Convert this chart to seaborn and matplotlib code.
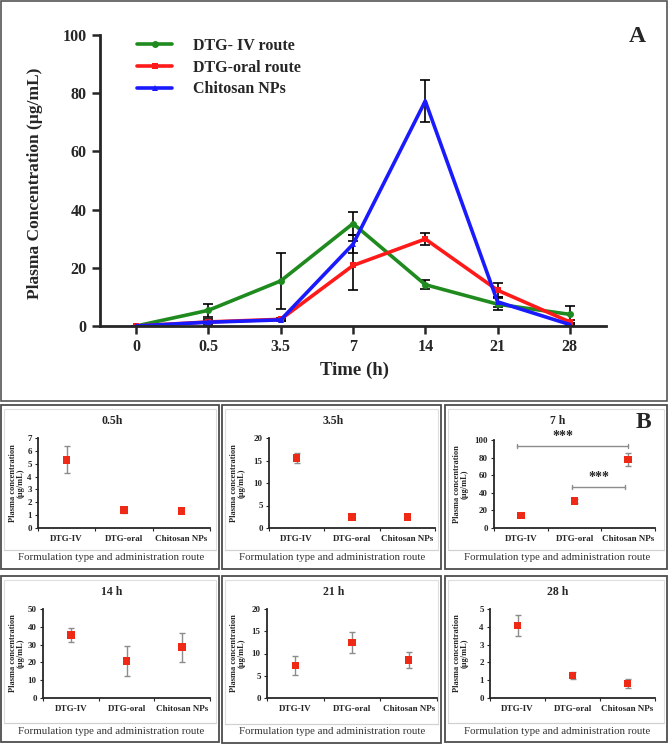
import numpy as np
import pandas as pd
import matplotlib
matplotlib.use("Agg")
import matplotlib.pyplot as plt
from matplotlib.patches import Rectangle
from matplotlib.lines import Line2D
import seaborn as sns

# ---- data: panel A (mean +/- sd, ug/mL) ----
times = ['0', '0.5', '3.5', '7', '14', '21', '28']
routes = ['DTG- IV route', 'DTG-oral route', 'Chitosan NPs']
iv_mean = [0, 5.4, 15.5, 35.2, 14.2, 7.5, 4.0]
iv_sd = [0, 2.3, 9.7, 4.0, 1.6, 2.0, 2.8]
oral_mean = [0, 1.4, 2.3, 20.8, 29.9, 12.3, 1.4]
oral_sd = [0, 1.0, 0.5, 8.5, 2.2, 2.5, 0.5]
np_mean = [0, 1.3, 2.1, 28.1, 77.3, 8.3, 0.5]
np_sd = [0, 0.4, 0.3, 3.0, 7.2, 1.8, 0.3]

# ---- data: panel B (one small chart per time point) ----
groups = ['DTG-IV', 'DTG-oral', 'Chitosan NPs']
p05_mean, p05_sd = [5.3, 1.4, 1.3], [1.05, 0.2, 0.12]
p35_mean, p35_sd = [15.5, 2.4, 2.4], [1.1, 0.3, 0.3]
p7_mean, p7_sd = [14.1, 30.4, 78.0], [1.5, 2.0, 7.0]
p14_mean, p14_sd = [35.4, 20.9, 28.5], [4.2, 8.3, 8.0]
p21_mean, p21_sd = [7.3, 12.45, 8.5], [2.15, 2.4, 1.8]
p28_mean, p28_sd = [4.08, 1.26, 0.81], [0.6, 0.2, 0.26]

W, H = 669, 745

sns.set_style("ticks")
plt.rcParams['font.family'] = ['Liberation Serif', 'DejaVu Serif']

fig = plt.figure(figsize=(W / 100, H / 100), dpi=100)


def fbox(x0, x1, y0, y1):
    # pixel box (top-left origin) -> figure fraction rect
    return [x0 / W, 1 - y1 / H, (x1 - x0) / W, (y1 - y0) / H]


def frame(x0, x1, y0, y1, color='#555555', lw=1.2):
    r = Rectangle((x0 / W, 1 - y1 / H), (x1 - x0) / W, (y1 - y0) / H,
                  transform=fig.transFigure, fill=False, ec=color, lw=lw)
    fig.add_artist(r)


# ================= panel A =================
frame(1, 667, 1, 401)
ax = fig.add_axes(fbox(100, 606, 35, 326))

df = pd.DataFrame({
    'pos': np.tile(np.arange(len(times)), 3),
    'conc': iv_mean + oral_mean + np_mean,
    'sd': iv_sd + oral_sd + np_sd,
    'route': np.repeat(routes, len(times)),
})
colors = {'DTG- IV route': '#1f8b1f', 'DTG-oral route': '#ff1a1a', 'Chitosan NPs': '#1a1aff'}
mk = {'DTG- IV route': 'o', 'DTG-oral route': 's', 'Chitosan NPs': '^'}

for r in routes:
    sub = df[df.route == r]
    ax.errorbar(sub.pos, sub.conc, yerr=sub.sd, fmt='none', ecolor='black',
                elinewidth=1.2, capsize=3.5, capthick=1.2, zorder=1)
sns.lineplot(data=df, x='pos', y='conc', hue='route', style='route',
             markers=mk, dashes=False, palette=colors, lw=2.6,
             markersize=5, markeredgewidth=0, legend=False, ax=ax, zorder=2)

ax.set_xlim(-0.5, 6.5)
ax.set_ylim(0, 100)
ax.set_xticks(range(len(times)))
ax.set_xticklabels(times)
ax.set_yticks(range(0, 101, 20))
sns.despine(ax=ax)
for s in ['left', 'bottom']:
    ax.spines[s].set_linewidth(2)
ax.tick_params(width=1.8, length=6, labelsize=11.5)
for t in ax.get_xticklabels() + ax.get_yticklabels():
    t.set_fontweight('bold')
ax.set_xlabel('')
ax.set_ylabel('')
fig.text(354 / W, 1 - 370 / H, 'Time (h)', ha='center', va='center',
         fontsize=13.5, fontweight='bold')
fig.text(35 / W, 1 - 183 / H, 'Plasma Concentration (\u00b5g/mL)', rotation=90,
         ha='center', va='center', fontsize=12.5, fontweight='bold')
fig.text(637 / W, 1 - 37 / H, 'A', ha='center', va='center', fontsize=17,
         fontweight='bold')

handles = [Line2D([], [], color=colors[r], marker=mk[r], lw=2.6, markersize=5,
                  markeredgewidth=0) for r in routes]
ax.legend(handles, routes, loc='upper left', bbox_to_anchor=(137 / W, 1 - 38 / H),
          bbox_transform=fig.transFigure, frameon=False, borderpad=0,
          borderaxespad=0, handlelength=2.2, handletextpad=1.3, labelspacing=0.35,
          prop={'weight': 'bold', 'size': 11.5})

# ================= panel B =================
panels = [
    # title, mean, sd, ymax, ystep, box(x0,x1,y0,y1), axes(x0,x1,y0,y1)
    ('0.5h', p05_mean, p05_sd, 7, 1, (1, 219, 405, 569), (38, 210, 438, 528)),
    ('3.5h', p35_mean, p35_sd, 20, 5, (222, 441, 405, 569), (269, 435, 438, 528)),
    ('7 h', p7_mean, p7_sd, 100, 20, (445, 667, 405, 569), (494, 655, 440, 528)),
    ('14 h', p14_mean, p14_sd, 50, 10, (1, 219, 576, 742), (43, 210, 609, 698)),
    ('21 h', p21_mean, p21_sd, 20, 5, (222, 441, 576, 743), (267, 437, 609, 698)),
    ('28 h', p28_mean, p28_sd, 5, 1, (445, 667, 576, 742), (490, 655, 609, 698)),
]

for title, mean, sd, ymax, ystep, bx, axp in panels:
    bx0, bx1, by0, by1 = bx
    frame(bx0, bx1, by0, by1, color='#4d4d4d', lw=1.3)
    sep = by1 - 19
    frame(bx0 + 3, bx1 - 3, by0 + 4, sep, color='#dedede', lw=0.8)

    a = fig.add_axes(fbox(*axp))
    pdf = pd.DataFrame({'group': groups, 'pos': [0, 1, 2], 'mean': mean, 'sd': sd})
    a.errorbar(pdf.pos, pdf['mean'], yerr=pdf.sd, fmt='none', ecolor='#8c8c8c',
               elinewidth=1.0, capsize=2.2, capthick=1.0, zorder=2)
    sns.scatterplot(data=pdf, x='pos', y='mean', marker='s', color='#ee2a16',
                    s=30, edgecolor='none', ax=a, zorder=3, legend=False)
    a.set_xlim(-0.5, 2.5)
    a.set_ylim(0, ymax)
    a.set_yticks(np.arange(0, ymax + 0.1, ystep))
    a.set_xticks([0, 1, 2])
    a.set_xticklabels(groups)
    a.set_xticks([-0.5, 0.5, 1.5, 2.5], minor=True)
    a.tick_params(axis='x', which='major', length=0, pad=5)
    a.tick_params(axis='x', which='minor', length=2.5, width=0.8)
    a.tick_params(axis='y', length=2.5, width=0.8, pad=2)
    a.tick_params(labelsize=6.5)
    for t in a.get_xticklabels() + a.get_yticklabels():
        t.set_fontweight('bold')
    sns.despine(ax=a)
    for s in ['left', 'bottom']:
        a.spines[s].set_linewidth(1.3)
    a.set_xlabel('')
    a.set_ylabel('')

    cx = (bx0 + bx1) / 2
    fig.text((cx + 2) / W, 1 - (by0 + 16) / H, title, ha='center', va='center',
             fontsize=8.5, fontweight='bold')
    fig.text((bx0 + 16) / W, 1 - ((axp[2] + axp[3]) / 2) / H,
             'Plasma concentration\n(\u00b5g/mL)', rotation=90, ha='center',
             va='center', fontsize=6, fontweight='bold', linespacing=1.0)
    fig.add_artist(Line2D([(bx0 + 3) / W, (bx1 - 3) / W], [1 - sep / H, 1 - sep / H],
                          transform=fig.transFigure, color='#d0d0d0', lw=0.8))
    fig.text((cx + 1) / W, 1 - (sep + 8) / H, 'Formulation type and administration route',
             ha='center', va='center', fontsize=7.8, color='#333333')

    if title == '7 h':
        for xa, xb, yb, xs, ys in [(-0.07, 2.0, 93, 0.78, 97), (0.96, 1.95, 46.4, 1.46, 50)]:
            a.plot([xa, xb], [yb, yb], color='#8c8c8c', lw=1.0)
            a.plot([xa, xa], [yb - 2, yb + 2], color='#8c8c8c', lw=1.0)
            a.plot([xb, xb], [yb - 2, yb + 2], color='#8c8c8c', lw=1.0)
            a.text(xs, ys, '***', ha='center', va='bottom', fontsize=10,
                   fontweight='bold', clip_on=False)
        fig.text((bx1 - 24) / W, 1 - (by0 + 18) / H, 'B', ha='center', va='center',
                 fontsize=17, fontweight='bold')

fig.savefig('out.png', dpi=100)
